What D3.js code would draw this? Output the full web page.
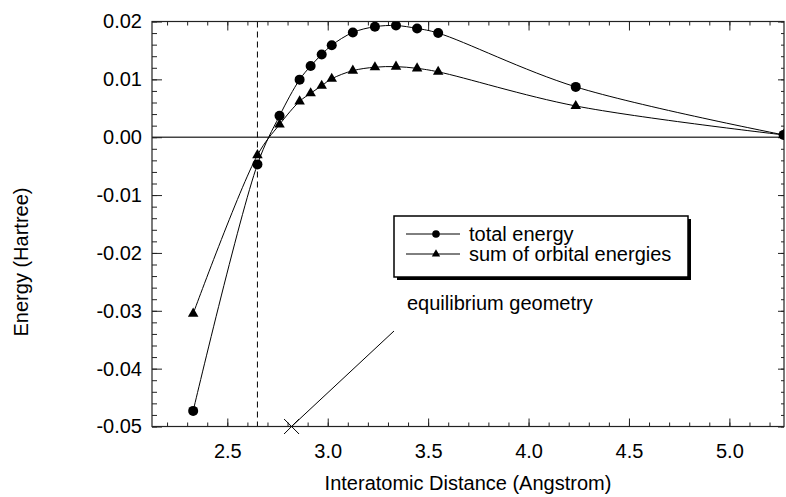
<!DOCTYPE html>
<html>
<head>
<meta charset="utf-8">
<script src="https://cdn.jsdelivr.net/npm/d3@7"></script>
<style>
  body { margin: 0; background: #fff; }
  svg { font-family: "Liberation Sans", Arial, Helvetica, sans-serif; }
</style>
</head>
<body>
<div id="chart"></div>
<script>
// values
var distance    = [2.33, 2.65, 2.76, 2.86, 2.915, 2.97, 3.02, 3.125, 3.235, 3.34, 3.445, 3.55, 4.235, 5.27];
var totalEnergy = [-0.0473, -0.0047, 0.0037, 0.00995, 0.0123, 0.0143, 0.0159, 0.0181, 0.0191, 0.0193, 0.0188, 0.0180, 0.0087, 0.0004];
var orbitalSum  = [-0.0305, -0.0031, 0.0022, 0.0062, 0.0076, 0.0089, 0.0101, 0.0115, 0.0121, 0.0122, 0.0119, 0.0113, 0.0054, 0.0004];

var xTicks = [2.5, 3.0, 3.5, 4.0, 4.5, 5.0];
var xTickLabels = ["2.5", "3.0", "3.5", "4.0", "4.5", "5.0"];
var yTicks = [0.02, 0.01, 0, -0.01, -0.02, -0.03, -0.04, -0.05];
var yTickLabels = ["0.02", "0.01", "0.00", "-0.01", "-0.02", "-0.03", "-0.04", "-0.05"];

var seriesNames = ["total energy", "sum of orbital energies"];
var dashedAt = 2.65;          // vertical dashed line
var equilibrium = 2.82;       // cross on the x axis
var equilibriumLabel = "equilibrium geometry";

render();

function render() {
  var width = 786, height = 497;
  var left = 152, right = 784, top = 21.5, bottom = 426.5;

  var svg = d3.select("#chart")
    .append("svg")
    .attr("width", width)
    .attr("height", height);

  var xScale = d3.scaleLinear().domain([2.125, 5.272]).range([left, right]);
  var yScale = d3.scaleLinear().domain([-0.05, 0.02]).range([bottom, top]);

  var xMinor = d3.range(22, 53).map(function (d) { return d / 10; });
  var yMinor = d3.range(-25, 11).map(function (d) { return d * 0.002; });

  svg.append("clipPath").attr("id", "plot")
    .append("rect")
    .attr("x", left).attr("y", top)
    .attr("width", right - left).attr("height", bottom - top);

  // zero line
  svg.append("line")
    .attr("x1", left).attr("x2", right)
    .attr("y1", yScale(0)).attr("y2", yScale(0))
    .attr("stroke", "#444")
    .attr("stroke-width", 1.5);

  // dashed line
  svg.append("line")
    .attr("x1", xScale(dashedAt)).attr("x2", xScale(dashedAt))
    .attr("y1", top).attr("y2", bottom)
    .attr("stroke", "#000")
    .attr("stroke-width", 1)
    .attr("stroke-dasharray", "6,4");

  // ticks, all pointing inwards
  function noLines(g) { g.select(".domain").remove(); }

  svg.append("g")
    .attr("transform", "translate(0," + bottom + ")")
    .call(d3.axisBottom(xScale).tickValues(xMinor).tickSize(-4).tickFormat(""))
    .call(noLines);
  svg.append("g")
    .attr("transform", "translate(0," + bottom + ")")
    .call(d3.axisBottom(xScale).tickValues(xTicks).tickSize(-8)
      .tickFormat(function (d, i) { return xTickLabels[i]; }))
    .call(noLines)
    .call(function (g) {
      g.selectAll("text").attr("y", 31).attr("dy", 0)
        .attr("fill", "#000").style("font-size", "20px");
    });

  svg.append("g")
    .attr("transform", "translate(0," + top + ")")
    .call(d3.axisTop(xScale).tickValues(xMinor).tickSize(-4).tickFormat(""))
    .call(noLines);
  svg.append("g")
    .attr("transform", "translate(0," + top + ")")
    .call(d3.axisTop(xScale).tickValues(xTicks).tickSize(-9).tickFormat(""))
    .call(noLines);

  svg.append("g")
    .attr("transform", "translate(" + left + ",0)")
    .call(d3.axisLeft(yScale).tickValues(yMinor).tickSize(-5).tickFormat(""))
    .call(noLines);
  svg.append("g")
    .attr("transform", "translate(" + left + ",0)")
    .call(d3.axisLeft(yScale).tickValues(yTicks).tickSize(-10).tickPadding(10)
      .tickFormat(function (d, i) { return yTickLabels[i]; }))
    .call(noLines)
    .call(function (g) {
      g.selectAll("text").attr("fill", "#000").style("font-size", "20px");
    });

  svg.append("g")
    .attr("transform", "translate(" + right + ",0)")
    .call(d3.axisRight(yScale).tickValues(yMinor).tickSize(-3).tickFormat(""))
    .call(noLines);
  svg.append("g")
    .attr("transform", "translate(" + right + ",0)")
    .call(d3.axisRight(yScale).tickValues(yTicks).tickSize(-6).tickFormat(""))
    .call(noLines);

  svg.selectAll(".tick line").attr("stroke", "#222");

  // frame
  svg.append("rect")
    .attr("x", left).attr("y", top)
    .attr("width", right - left).attr("height", bottom - top)
    .attr("fill", "none")
    .attr("stroke", "#222")
    .attr("stroke-width", 1.2);

  // curves
  var line = d3.line()
    .x(function (d) { return xScale(d[0]); })
    .y(function (d) { return yScale(d[1]); })
    .curve(d3.curveCatmullRom.alpha(0.5));

  var total = distance.map(function (d, i) { return [d, totalEnergy[i]]; });
  var orbital = distance.map(function (d, i) { return [d, orbitalSum[i]]; });

  var plot = svg.append("g").attr("clip-path", "url(#plot)");

  plot.append("path")
    .datum(total)
    .attr("fill", "none")
    .attr("stroke", "#000")
    .attr("stroke-width", 1)
    .attr("d", line);

  plot.append("path")
    .datum(orbital)
    .attr("fill", "none")
    .attr("stroke", "#000")
    .attr("stroke-width", 1)
    .attr("d", line);

  plot.selectAll(".dot")
    .data(total)
    .enter().append("circle")
    .attr("cx", function (d) { return xScale(d[0]); })
    .attr("cy", function (d) { return yScale(d[1]); })
    .attr("r", 5)
    .attr("fill", "#000");

  var tri = d3.symbol().type(d3.symbolTriangle).size(48);
  plot.selectAll(".tri")
    .data(orbital)
    .enter().append("path")
    .attr("d", tri)
    .attr("transform", function (d) {
      return "translate(" + xScale(d[0]) + "," + yScale(d[1]) + ")";
    })
    .attr("fill", "#000");

  // equilibrium annotation
  var ex = xScale(equilibrium), ey = bottom, s = 7.5;
  svg.append("path")
    .attr("d", "M" + (ex - s) + "," + (ey - s) + "L" + (ex + s) + "," + (ey + s)
      + "M" + (ex - s) + "," + (ey + s) + "L" + (ex + s) + "," + (ey - s))
    .attr("stroke", "#000")
    .attr("stroke-width", 1);
  svg.append("line")
    .attr("x1", ex).attr("y1", ey)
    .attr("x2", 394).attr("y2", 331)
    .attr("stroke", "#000")
    .attr("stroke-width", 1);
  svg.append("text")
    .attr("x", 407).attr("y", 310)
    .style("font-size", "20px")
    .text(equilibriumLabel);

  // legend
  var lx = 394, ly = 216, lw = 294, lh = 61;
  svg.append("rect")
    .attr("x", lx + 3).attr("y", ly + 3)
    .attr("width", lw).attr("height", lh)
    .attr("fill", "#000");
  svg.append("rect")
    .attr("x", lx).attr("y", ly)
    .attr("width", lw).attr("height", lh)
    .attr("fill", "#fff")
    .attr("stroke", "#000")
    .attr("stroke-width", 1.5);

  var legend = svg.selectAll(".legend")
    .data(seriesNames)
    .enter().append("g")
    .attr("transform", function (d, i) {
      return "translate(" + lx + "," + (ly + 18 + i * 20) + ")";
    });

  legend.append("line")
    .attr("x1", 12).attr("x2", 66)
    .attr("stroke", "#000")
    .attr("stroke-width", 1);

  legend.each(function (d, i) {
    var g = d3.select(this);
    if (i === 0) {
      g.append("circle").attr("cx", 42).attr("r", 3.8).attr("fill", "#000");
    } else {
      g.append("path")
        .attr("d", d3.symbol().type(d3.symbolTriangle).size(30))
        .attr("transform", "translate(42,0)")
        .attr("fill", "#000");
    }
  });

  legend.append("text")
    .attr("x", 75)
    .attr("dy", "0.35em")
    .style("font-size", "20px")
    .text(function (d) { return d; });

  // axis titles
  svg.append("text")
    .attr("x", (left + right) / 2)
    .attr("y", 490)
    .attr("text-anchor", "middle")
    .style("font-size", "20px")
    .text("Interatomic Distance (Angstrom)");

  svg.append("text")
    .attr("transform", "translate(28,262) rotate(-90)")
    .attr("text-anchor", "middle")
    .style("font-size", "20px")
    .text("Energy (Hartree)");
}
</script>
</body>
</html>
